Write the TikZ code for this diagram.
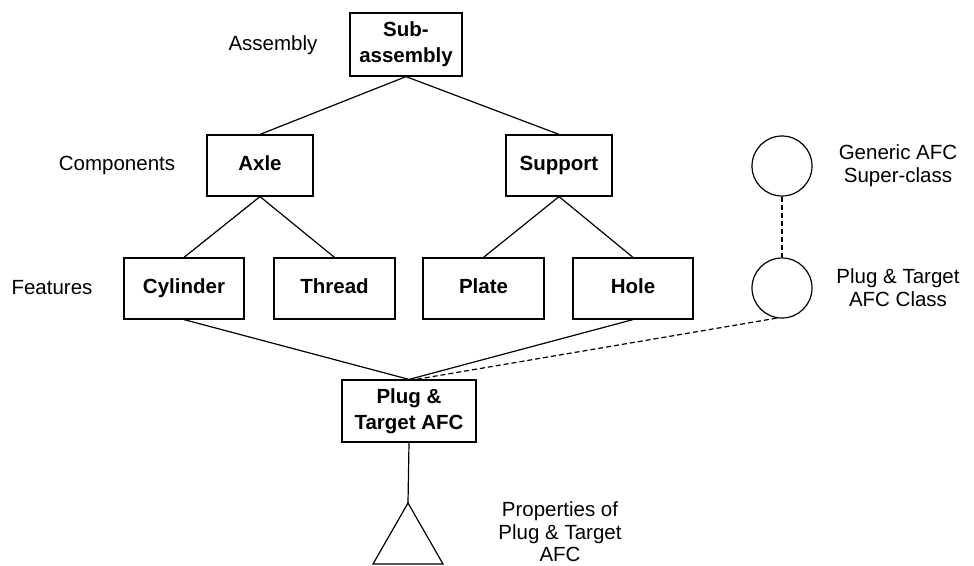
\documentclass[tikz,border=0pt]{standalone}
\usepackage{fontspec}
\setmainfont{Liberation Sans}
\begin{document}
\begin{tikzpicture}[x=1pt,y=-1pt,line width=1.2pt,
  box/.style={draw,rectangle,inner sep=0pt,font=\fontsize{20.5}{26}\selectfont\bfseries,align=center},
  one/.style={text height=0.9em,text depth=0em},
  lbl/.style={font=\fontsize{20.5}{23}\selectfont,align=center,inner sep=0pt},
  afc/.style={draw,circle,minimum size=60pt,inner sep=0pt},
  link/.style={draw,line width=1.2pt},
  dlink/.style={draw,line width=1.2pt,dash pattern=on 5pt off 3pt}]
\useasboundingbox (0,0) rectangle (974,565);
\node[box,minimum width=112pt,minimum height=63pt] (sub) at (406,44.5) {Sub-\\assembly};
\node[box,one,minimum width=106pt,minimum height=61pt] (axle) at (260,165.5) {Axle};
\node[box,one,minimum width=106pt,minimum height=61pt] (support) at (559,165.5) {Support};
\node[box,one,minimum width=120pt,minimum height=61pt] (cyl) at (184,288.5) {Cylinder};
\node[box,one,minimum width=121pt,minimum height=61pt] (thread) at (334.5,288.5) {Thread};
\node[box,one,minimum width=121pt,minimum height=61pt] (plate) at (483.5,288.5) {Plate};
\node[box,one,minimum width=120pt,minimum height=61pt] (hole) at (633,288.5) {Hole};
\node[box,minimum width=134pt,minimum height=62pt] (pt) at (409,411) {Plug \&\\Target AFC};
\node[afc] (gen) at (782,166) {};
\node[afc] (ptc) at (782,288) {};
\coordinate (apex) at (408,503);
\coordinate (bl) at (373,564);
\coordinate (br) at (443,564);
\draw (apex) -- (bl) -- (br) -- cycle;
\coordinate (ptdash) at ([xshift=7pt]pt.north);
\node[lbl] (tasm) at (273,45) {Assembly};
\node[lbl] (tcomp) at (117,165) {Components};
\node[lbl] (tfeat) at (52,288) {Features};
\node[lbl] (tgen) at (898,166) {Generic AFC\\Super-class};
\node[lbl] (tptc) at (898,288) {Plug \& Target\\AFC Class};
\node[lbl,font=\fontsize{20.5}{22.5}\selectfont] (tprop) at (560,532) {Properties of\\Plug \& Target\\AFC};
\path[link] (sub.south) -- (axle.north);
\path[link] (sub.south) -- (support.north);
\path[link] (axle.south) -- (cyl.north);
\path[link] (axle.south) -- (thread.north);
\path[link] (support.south) -- (plate.north);
\path[link] (support.south) -- (hole.north);
\path[link] (cyl.south) -- (pt.north);
\path[link] (hole.south) -- (pt.north);
\path[link] (pt.south) -- (apex);
\path[dlink] (gen.south) -- (ptc.north);
\path[dlink] (ptc.-100) -- (ptdash);
\end{tikzpicture}
\end{document}
